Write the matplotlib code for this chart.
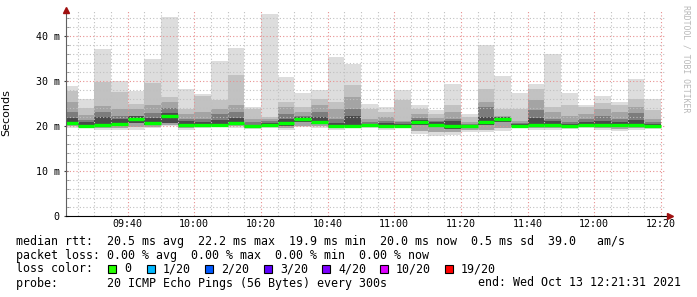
import matplotlib
matplotlib.use('Agg')
import matplotlib.pyplot as plt
import numpy as np

# ---- data (milliseconds), one value per 5-minute step, ending 09:25 ... 12:20 ----
start_min = 21 + 31 / 60      # 09:21:31 as minutes after 09:00
end_min = 201 + 31 / 60       # 12:21:31
first_end = 25                # first step ends 09:25
step = 5

rtt_max = [28.8, 26.1, 37.1, 30.1, 27.7, 35.0, 44.2, 28.3, 27.2, 34.4, 37.4, 24.2,
           44.8, 30.9, 27.4, 27.9, 35.4, 33.8, 25.0, 24.2, 27.9, 24.7, 23.6, 29.3,
           22.7, 38.0, 31.1, 27.4, 29.3, 35.9, 27.4, 24.6, 26.7, 25.4, 30.4, 26.1]
band2_hi = [27.7, 24.0, 29.8, 27.6, 24.9, 29.6, 26.4, 23.7, 26.7, 25.7, 31.3, 23.8,
            22.0, 25.3, 24.2, 25.9, 25.3, 29.1, 23.8, 23.2, 25.7, 23.8, 22.7, 24.6,
            22.0, 28.2, 23.8, 23.7, 28.3, 24.2, 24.6, 24.2, 25.2, 24.7, 25.9, 23.5]
band3_hi = [25.3, 22.4, 24.4, 23.8, 23.8, 24.7, 25.3, 22.7, 23.1, 23.8, 24.7, 21.6,
            21.5, 24.2, 23.2, 24.6, 23.8, 26.4, 21.6, 22.0, 21.2, 22.7, 21.8, 23.1,
            21.0, 25.3, 22.3, 21.2, 25.7, 23.1, 22.3, 22.7, 23.8, 23.2, 24.2, 21.6]
band4_hi = [23.1, 21.4, 23.2, 22.3, 22.3, 22.9, 24.0, 21.6, 21.6, 22.7, 23.2, 20.8,
            21.2, 22.7, 22.3, 23.1, 21.6, 23.8, 20.9, 21.0, 20.8, 21.8, 21.0, 21.6,
            20.5, 24.2, 22.0, 20.6, 23.5, 21.6, 21.0, 21.6, 22.3, 21.6, 22.9, 20.8]
inner_hi = [21.8, 20.9, 22.0, 21.6, 22.3, 21.8, 23.0, 21.0, 21.0, 21.3, 21.8, 20.3,
            20.6, 21.6, 22.0, 22.0, 20.6, 22.3, 20.5, 20.6, 20.4, 21.4, 20.8, 21.0,
            20.2, 22.0, 22.0, 20.4, 21.8, 21.0, 20.5, 21.0, 21.2, 20.8, 21.3, 20.4]
median = [20.6, 20.0, 20.2, 20.4, 21.5, 20.7, 22.2, 20.3, 20.3, 20.3, 20.7, 19.9,
          20.2, 20.6, 21.5, 21.0, 19.9, 19.9, 20.2, 20.0, 20.1, 21.0, 20.3, 19.9,
          19.9, 20.9, 21.6, 20.0, 20.3, 20.3, 20.0, 20.3, 20.3, 20.3, 20.3, 20.0]
inner_lo = [20.2, 19.8, 19.9, 20.0, 20.6, 20.3, 20.6, 19.9, 20.0, 20.0, 20.2, 19.7,
            20.0, 20.1, 20.9, 20.4, 19.7, 19.7, 20.0, 19.8, 20.0, 20.3, 19.8, 19.4,
            19.5, 20.2, 20.8, 19.8, 19.9, 19.9, 19.7, 20.0, 19.9, 19.7, 19.9, 19.7]
band_lo = [20.0, 19.7, 19.6, 19.6, 19.7, 19.8, 20.3, 19.6, 19.8, 19.9, 19.9, 19.6,
           19.8, 19.6, 20.0, 19.9, 19.5, 19.7, 19.8, 19.6, 19.9, 18.9, 18.6, 18.6,
           19.1, 19.2, 19.5, 19.7, 19.6, 19.6, 19.6, 19.8, 19.6, 19.4, 19.6, 19.6]
rtt_min = [19.6, 19.5, 19.2, 19.2, 19.2, 19.5, 20.0, 19.2, 19.5, 19.7, 19.5, 19.4,
           19.5, 19.2, 19.7, 19.6, 19.2, 19.5, 19.6, 19.2, 19.8, 18.3, 17.7, 17.9,
           18.6, 18.6, 19.0, 19.5, 19.2, 19.2, 19.4, 19.5, 19.2, 18.9, 19.2, 19.4]

tick_labels = ['09:40', '10:00', '10:20', '10:40', '11:00', '11:20', '11:40', '12:00', '12:20']
ytick_labels = ['0', '10 m', '20 m', '30 m', '40 m']

legend_lines = [
    'median rtt:  20.5 ms avg  22.2 ms max  19.9 ms min  20.0 ms now  0.5 ms sd  39.0   am/s',
    'packet loss: 0.00 % avg  0.00 % max  0.00 % min  0.00 % now',
]
loss_labels = ['0', '1/20', '2/20', '3/20', '4/20', '10/20', '19/20']
loss_colors = ['#26ff00', '#00b8ff', '#0059ff', '#5e00ff', '#7e00ff', '#dd00ff', '#ff0000']
probe_text = 'probe:       20 ICMP Echo Pings (56 Bytes) every 300s'
end_text = 'end: Wed Oct 13 12:21:31 2021'

# ---- figure ----
W, H = 697, 297
fig = plt.figure(figsize=(W / 100, H / 100), dpi=100)
fig.patch.set_facecolor('white')
ax_l, ax_r, ax_t, ax_b = 66, 666, 10, 216
ax = fig.add_axes([ax_l / W, (H - ax_b) / H, (ax_r - ax_l) / W, (ax_b - ax_t) / H])
ax.set_facecolor('white')
ymax = (ax_b - ax_t) / 4.5
ax.set_xlim(start_min, end_min)
ax.set_ylim(0, ymax)

n = len(median)
ends = np.arange(n) * step + first_end
starts = np.maximum(ends - step, start_min)
widths = ends - starts

bands = [
    (rtt_min, rtt_max, '#dddddd'),
    (band_lo, band2_hi, '#c2c2c2'),
    (band_lo, band3_hi, '#a4a4a4'),
    (inner_lo, band4_hi, '#7c7c7c'),
    (inner_lo, inner_hi, '#4a4a4a'),
]
for lo, hi, c in bands:
    lo = np.array(lo); hi = np.array(hi)
    ax.bar(starts, hi - lo, bottom=lo, width=widths, align='edge', color=c,
           linewidth=0, zorder=2)

ax.hlines(median, starts, ends, colors='#00ff00', linewidth=2.4, zorder=4)

# grid
mono = 'DejaVu Sans Mono'
minor_x = np.arange(25, 201, 5)
major_x = np.arange(40, 201, 20)
for xv in minor_x:
    if xv not in major_x:
        ax.axvline(xv, color='#c0c0c0', lw=0.8, ls=(0, (1, 2)), zorder=3)
for xv in major_x:
    ax.axvline(xv, color='#e89090', lw=0.8, ls=(0, (1, 2)), zorder=3)
for yv in np.arange(2, ymax, 2):
    if yv % 10 == 0:
        ax.axhline(yv, color='#e89090', lw=0.8, ls=(0, (1, 2)), zorder=3)
    else:
        ax.axhline(yv, color='#c0c0c0', lw=0.8, ls=(0, (1, 2)), zorder=3)

# axes styling
for s in ['top', 'right']:
    ax.spines[s].set_visible(False)
ax.spines['left'].set_color('#606060')
ax.spines['bottom'].set_color('#000000')
ax.spines['left'].set_zorder(5)
ax.spines['bottom'].set_zorder(5)
ax.set_xticks(major_x)
ax.set_xticklabels(tick_labels, fontfamily=mono, fontsize=7.2)
ax.set_xticks(minor_x, minor=True)
ax.set_yticks([0, 10, 20, 30, 40])
ax.set_yticklabels(ytick_labels, fontfamily=mono, fontsize=7.2)
ax.set_yticks(np.arange(0, ymax, 2), minor=True)
ax.tick_params(axis='both', which='major', length=3, direction='inout', width=0.8, color='#404040', pad=3)
ax.tick_params(axis='both', which='minor', length=2, direction='in', width=0.6, color='#808080')
ax.tick_params(axis='x', which='both', length=0, pad=2)
ax.set_ylabel('Seconds', fontsize=8, fontfamily='DejaVu Sans')
ax.yaxis.set_label_coords(-55 / 600, 0.5)

# arrows
ax.plot([0], [1.0], marker='^', color='#a01010', markersize=4, transform=ax.transAxes,
        clip_on=False, zorder=6)
ax.plot([1.0 + 4 / 600], [0], marker='>', color='#a01010', markersize=4, transform=ax.transAxes,
        clip_on=False, zorder=6)

# right side watermark
fig.text(686 / W, 1 - 5 / H, 'RRDTOOL / TOBI OETIKER', rotation=270, ha='center', va='top',
         fontfamily=mono, fontsize=5.9, color='#b8b8b8')

# legend text
def fy(y):
    return 1 - y / H

fs = 8.4
fig.text(16 / W, fy(241), legend_lines[0], fontfamily=mono, fontsize=fs, va='center')
fig.text(16 / W, fy(255), legend_lines[1], fontfamily=mono, fontsize=fs, va='center')
fig.text(16 / W, fy(269), 'loss color:', fontfamily=mono, fontsize=fs, va='center')
box_x = [108, 147, 205, 264, 322, 380, 445]
for bx, lab, col in zip(box_x, loss_labels, loss_colors):
    fig.patches.append(plt.Rectangle((bx / W, fy(273)), 8 / W, 8 / H, transform=fig.transFigure,
                                     facecolor=col, edgecolor='black', linewidth=0.8))
    fig.text((bx + 16) / W, fy(269), lab, fontfamily=mono, fontsize=fs, va='center')
fig.text(16 / W, fy(283), probe_text, fontfamily=mono, fontsize=fs, va='center')
fig.text(681 / W, fy(283), end_text, fontfamily=mono, fontsize=fs, va='center', ha='right')

fig.savefig('out.png', dpi=100, facecolor='white')
